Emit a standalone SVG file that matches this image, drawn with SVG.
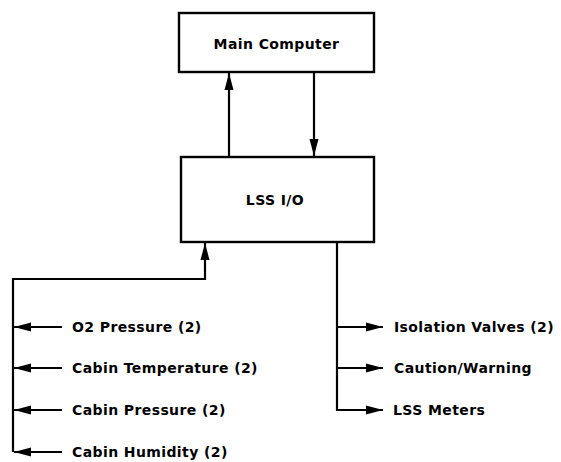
<svg xmlns="http://www.w3.org/2000/svg" width="561" height="462" viewBox="0 0 561 462">
<defs>
<marker id="ah" viewBox="0 0 17 10" refX="17" refY="5" markerWidth="17" markerHeight="10" markerUnits="userSpaceOnUse" orient="auto">
<path d="M0,0.5 L17,5 L0,9.5 Z" fill="#000"/>
</marker>
<style>
.box{fill:#fff;stroke:#000;stroke-width:2.4}
.ln{fill:none;stroke:#000;stroke-width:2.2}
.t{font-family:"DejaVu Sans","Verdana",sans-serif;font-weight:bold;font-size:14px;fill:#000;letter-spacing:0.4px}
</style>
</defs>
<rect width="561" height="462" fill="#fff"/>
<g id="main-computer">
<rect class="box" x="179" y="13" width="195" height="59"/>
<text class="t" x="276.5" y="49" text-anchor="middle">Main Computer</text>
</g>
<g id="lss-io">
<rect class="box" x="181" y="157" width="193" height="85"/>
<text class="t" x="275" y="205" text-anchor="middle">LSS I/O</text>
</g>
<g id="connectors">
<line class="ln" x1="229" y1="157" x2="229" y2="73" marker-end="url(#ah)"/>
<line class="ln" x1="314" y1="72" x2="314" y2="156" marker-end="url(#ah)"/>
<polyline class="ln" points="13,452 13,279 205,279 205,243" marker-end="url(#ah)"/>
<line class="ln" x1="62" y1="327" x2="14" y2="327" marker-end="url(#ah)"/>
<line class="ln" x1="62" y1="368" x2="14" y2="368" marker-end="url(#ah)"/>
<line class="ln" x1="62" y1="410" x2="14" y2="410" marker-end="url(#ah)"/>
<line class="ln" x1="62" y1="452" x2="14" y2="452" marker-end="url(#ah)"/>
<polyline class="ln" points="337,242 337,410 383,410" marker-end="url(#ah)"/>
<line class="ln" x1="337" y1="327" x2="383" y2="327" marker-end="url(#ah)"/>
<line class="ln" x1="337" y1="368" x2="383" y2="368" marker-end="url(#ah)"/>
</g>
<g id="o2-pressure"><text class="t" x="72" y="332">O2 Pressure (2)</text></g>
<g id="cabin-temperature"><text class="t" x="72" y="373">Cabin Temperature (2)</text></g>
<g id="cabin-pressure"><text class="t" x="72" y="415">Cabin Pressure (2)</text></g>
<g id="cabin-humidity"><text class="t" x="72" y="457">Cabin Humidity (2)</text></g>
<g id="isolation-valves"><text class="t" x="394" y="332">Isolation Valves (2)</text></g>
<g id="caution-warning"><text class="t" x="394" y="373">Caution/Warning</text></g>
<g id="lss-meters"><text class="t" x="393" y="415">LSS Meters</text></g>
</svg>
